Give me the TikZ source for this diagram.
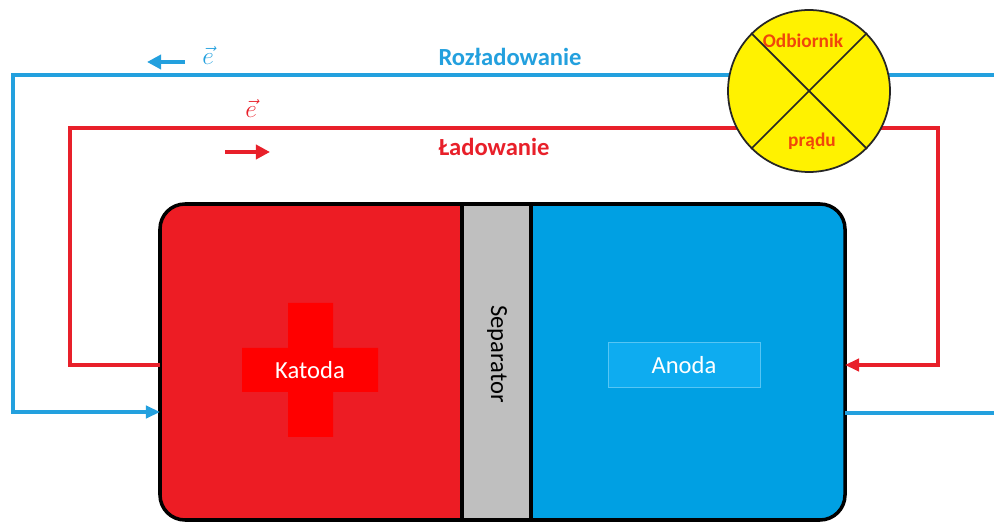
\documentclass[tikz,border=0pt]{standalone}
\usepackage{fontspec}
\setmainfont{Carlito}
\usetikzlibrary{arrows.meta}
\definecolor{katred}{RGB}{237,28,36}
\definecolor{crossred}{RGB}{255,0,0}
\definecolor{sepgray}{RGB}{191,191,191}
\definecolor{anblue}{RGB}{0,160,227}
\definecolor{anbox}{RGB}{14,172,240}
\definecolor{wireblue}{RGB}{35,160,222}
\definecolor{wirered}{RGB}{232,32,42}
\definecolor{odbtxt}{RGB}{240,70,10}
\tikzset{
 wire/.style={line width=2.2pt},
 intip/.style={-{Triangle[length=8pt,width=7pt]}},
 etip/.style={line width=2.6pt,-{Triangle[length=8pt,width=8pt]}},
 big/.style={font=\fontsize{14}{16}\selectfont},
 bigb/.style={font=\fontsize{14}{16}\selectfont\bfseries},
 small/.style={font=\fontsize{11}{13}\selectfont\bfseries,text=odbtxt}
}
\begin{document}
\begin{tikzpicture}[x=0.02cm,y=-0.02cm]
\useasboundingbox (0,0) rectangle (994,523);
\begin{scope}
\clip[rounded corners=0.5cm] (160,204) rectangle (845,520);
\fill[katred] (160,204) rectangle (462,520);
\fill[sepgray] (462,204) rectangle (531,520);
\fill[anblue] (531,204) rectangle (845,520);
\end{scope}
\fill[crossred] (288,303) rectangle (333,437) (242,348) rectangle (378,392);
\draw[line width=2pt,rounded corners=0.5cm] (160,204) rectangle (845,520);
\draw[line width=2pt] (462,204)--(462,520) (531,204)--(531,520);
\node[big,text=white] (kat) at (310,370) {Katoda};
\node[big,rotate=-90] (sep) at (497,354) {Separator};
\node[big,text=white,fill=anbox,draw=anbox!70!white,minimum width=3.04cm,minimum height=0.9cm] (an) at (684,365) {Anoda};
\coordinate (kred) at (160,365);
\coordinate (kblue) at (160,412);
\coordinate (ared) at (845,365);
\coordinate (ablue) at (845,413);
\coordinate (rtop) at (994,75);
\coordinate (rbot) at (994,413);
\draw[wire,wireblue,intip] (rtop) -| (13,412) -- (kblue);
\draw[wire,wireblue] (ablue) -- (rbot);
\draw[wire,wirered,intip] (kred) -| (70,128) -- (938,128) |- (ared);
\node[circle,draw=black!85,fill=yellow,line width=1pt,minimum size=3.24cm,inner sep=0] (odb) at (809,91) {};
\draw[line width=1pt,black!85] (odb.north west) -- (odb.south east) (odb.north east) -- (odb.south west);
\node[small] (odb1) at (803,41) {Odbiornik};
\node[small] (odb2) at (812,141) {prądu};
\node[bigb,text=wireblue] (roz) at (510,57) {Rozładowanie};
\node[bigb,text=wirered] (lad) at (494,147) {Ładowanie};
\coordinate (b1) at (185,62);
\coordinate (b2) at (147,62);
\coordinate (r1) at (225,152);
\coordinate (r2) at (270,152);
\draw[etip,wireblue] (b1) -- (b2);
\draw[etip,wirered] (r1) -- (r2);
\node[text=wireblue,font=\fontsize{15}{17}\selectfont] (eb) at (208,55) {$\vec{e}$};
\node[text=wirered,font=\fontsize{15}{17}\selectfont] (er) at (251,108) {$\vec{e}$};
\end{tikzpicture}
\end{document}
